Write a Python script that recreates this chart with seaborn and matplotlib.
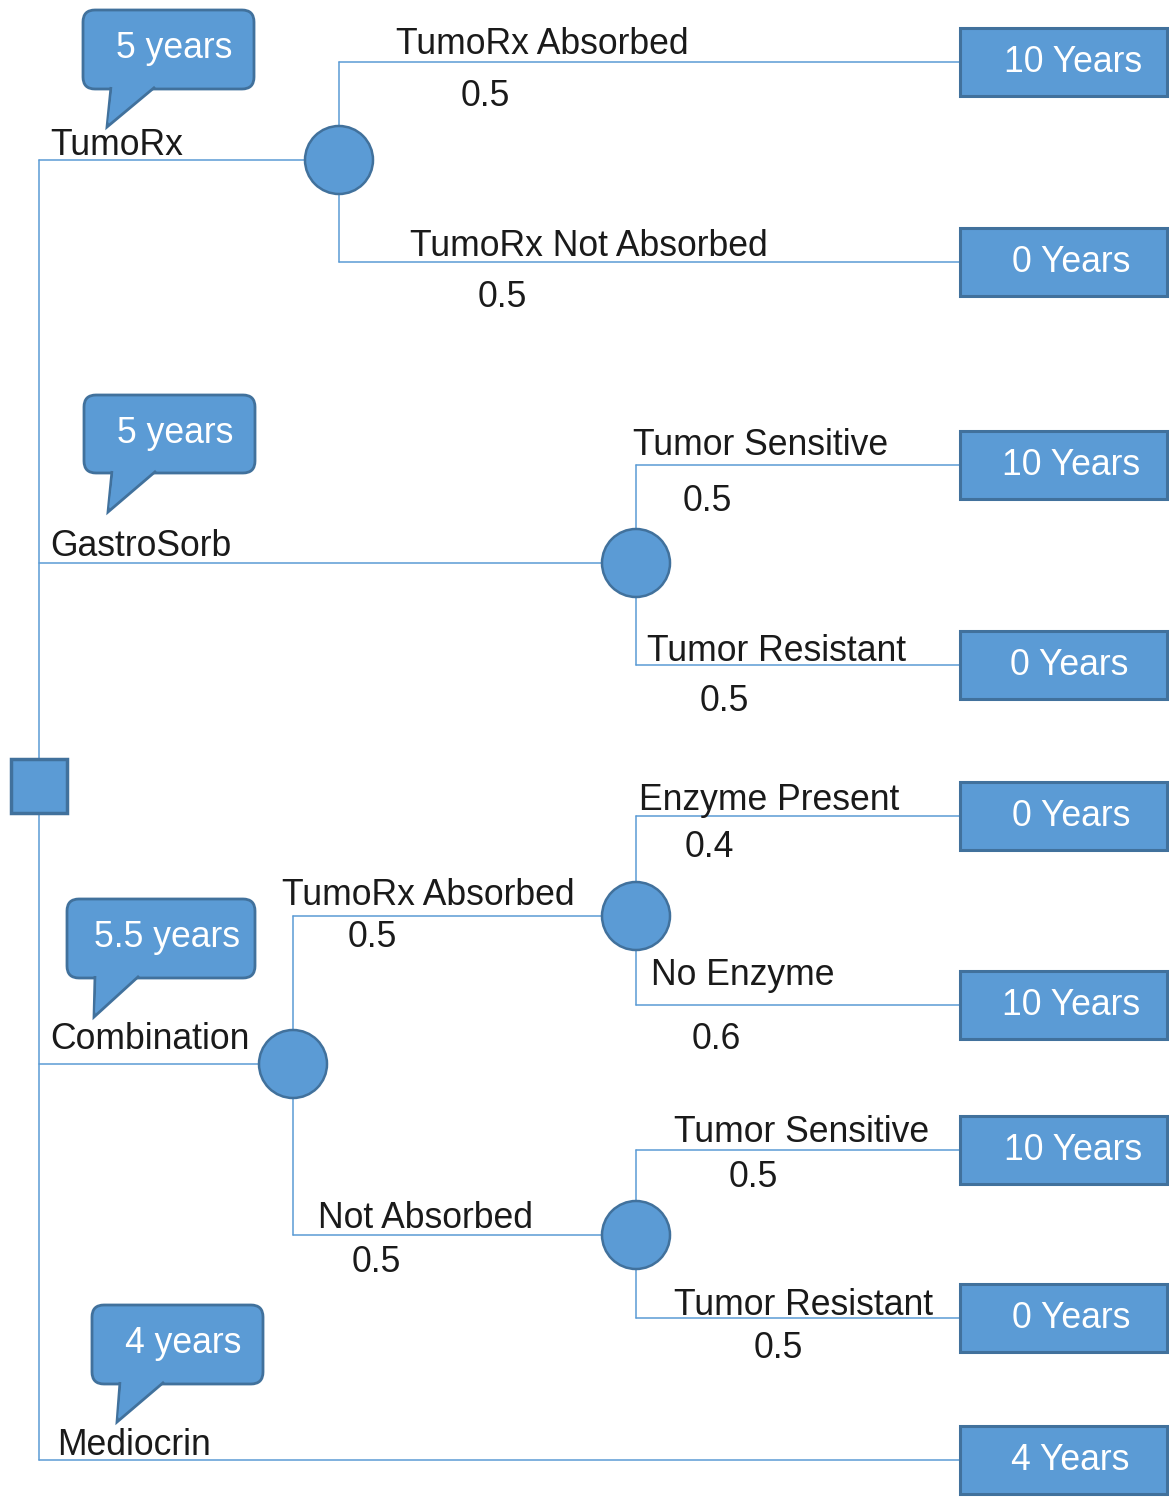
import matplotlib
matplotlib.use("Agg")
import matplotlib.pyplot as plt
from matplotlib.patches import Circle, Rectangle, FancyBboxPatch, Polygon
import seaborn as sns
import pandas as pd

# ---------------- data ----------------
strategies = ["TumoRx", "GastroSorb", "Combination", "Mediocrin"]
expected_values = ["5 years", "5 years", "5.5 years", "4 years"]
branch_labels = ["TumoRx Absorbed", "TumoRx Not Absorbed",
                 "Tumor Sensitive", "Tumor Resistant",
                 "TumoRx Absorbed", "Not Absorbed",
                 "Enzyme Present", "No Enzyme",
                 "Tumor Sensitive", "Tumor Resistant"]
branch_probs = ["0.5", "0.5", "0.5", "0.5", "0.5", "0.5", "0.4", "0.6", "0.5", "0.5"]
outcomes = ["10 Years", "0 Years", "10 Years", "0 Years",
            "0 Years", "10 Years", "10 Years", "0 Years", "4 Years"]

# ---------------- layout (pixels) ----------------
FILL = "#5B9BD5"
EDGE = "#41719C"
LINE = "#5B9BD5"
FS = 25.6
FONT = ["Liberation Sans", "DejaVu Sans"]

sns.set_theme(style="white")
plt.rcParams["font.family"] = FONT

fig = plt.figure(figsize=(11.69, 14.99), dpi=100)
ax = fig.add_axes([0, 0, 1, 1])

trunk_x = 39
strategy_y = [160, 563, 1064, 1460]
chance1 = [(339, 160), (636, 563), (293, 1064)]
chance2 = [(636, 916), (636, 1235)]
R = 34
box_x0, box_x1 = 960, 1167
box_h = 68
out_y = [62, 262, 465, 665, 816, 1005, 1150, 1318, 1460]

# connector segments
segs = []
def seg(x0, y0, x1, y1):
    segs.append([(x0, y0), (x1, y1)])
seg(trunk_x, strategy_y[0], trunk_x, strategy_y[3])
for i, y in enumerate(strategy_y[:3]):
    seg(trunk_x, y, chance1[i][0], y)
seg(trunk_x, strategy_y[3], box_x0, strategy_y[3])
cx, cy = chance1[0]
seg(cx, out_y[0], cx, out_y[1]); seg(cx, out_y[0], box_x0, out_y[0]); seg(cx, out_y[1], box_x0, out_y[1])
cx, cy = chance1[1]
seg(cx, out_y[2], cx, out_y[3]); seg(cx, out_y[2], box_x0, out_y[2]); seg(cx, out_y[3], box_x0, out_y[3])
cx, cy = chance1[2]
seg(cx, chance2[0][1], cx, chance2[1][1])
seg(cx, chance2[0][1], chance2[0][0], chance2[0][1])
seg(cx, chance2[1][1], chance2[1][0], chance2[1][1])
cx, cy = chance2[0]
seg(cx, out_y[4], cx, out_y[5]); seg(cx, out_y[4], box_x0, out_y[4]); seg(cx, out_y[5], box_x0, out_y[5])
cx, cy = chance2[1]
seg(cx, out_y[6], cx, out_y[7]); seg(cx, out_y[6], box_x0, out_y[6]); seg(cx, out_y[7], box_x0, out_y[7])

rows = []
for k, s in enumerate(segs):
    for (x, y) in s:
        rows.append({"x": x, "y": y, "seg": k})
df = pd.DataFrame(rows)
sns.lineplot(data=df, x="x", y="y", units="seg", estimator=None, sort=False,
             color=LINE, linewidth=1.1, ax=ax, legend=False)
ax.set_xlim(0, 1169)
ax.set_ylim(1499, 0)
ax.axis("off")

# decision square
ax.add_patch(Rectangle((11, 759), 56, 54, facecolor=FILL, edgecolor=EDGE, linewidth=2.5, zorder=3))

# chance nodes
for (x, y) in chance1 + chance2:
    ax.add_patch(Circle((x, y), R, facecolor=FILL, edgecolor=EDGE, linewidth=1.8, zorder=3))

# outcome boxes
out_text_x = [1073, 1071, 1071, 1069, 1071, 1071, 1073, 1071, 1070]
for y, lab, tx in zip(out_y, outcomes, out_text_x):
    ax.add_patch(Rectangle((box_x0, y - box_h / 2), box_x1 - box_x0, box_h,
                           facecolor=FILL, edgecolor=EDGE, linewidth=2.2, zorder=3))
    ax.text(tx, y, lab, color="white", fontsize=FS, ha="center", va="center", zorder=4)

# strategy labels
strat_pos = [(50, 155), (50, 556), (50, 1049), (57, 1455)]
for (x, y), lab in zip(strat_pos, strategies):
    ax.text(x, y, lab, fontsize=FS, color="#1a1a1a", ha="left", va="baseline")

# callout bubbles
bubbles = [(83, 10, 254, 89, 107, 127), (84, 395, 255, 473, 108, 512),
           (67, 899, 255, 978, 94, 1017), (92, 1305, 263, 1384, 117, 1422)]
for (x0, y0, x1, y1, tx, ty), lab in zip(bubbles, expected_values):
    ax.add_patch(FancyBboxPatch((x0, y0), x1 - x0, y1 - y0,
                                boxstyle="round,pad=0,rounding_size=12",
                                facecolor=FILL, edgecolor=EDGE, linewidth=2, zorder=3))
    ax.add_patch(Polygon([(x0 + 28, y1 - 2), (tx, ty), (x0 + 72, y1 - 2)], closed=False,
                         facecolor=FILL, edgecolor=EDGE, linewidth=2, zorder=3,
                         joinstyle="miter"))
    ax.add_patch(Polygon([(x0 + 30, y1 - 4), (tx + 1, ty - 4), (x0 + 70, y1 - 4)],
                         facecolor=FILL, edgecolor="none", zorder=4))
    ax.text((x0 + x1) / 2 + 6, (y0 + y1) / 2 - 1, lab, color="white", fontsize=FS,
            ha="center", va="center", zorder=5)

# branch labels and probabilities
lab_pos = [(396, 54), (410, 256), (633, 455), (647, 661), (282, 905), (318, 1228),
           (639, 810), (651, 985), (674, 1142), (674, 1315)]
prob_pos = [(461, 106), (478, 307), (683, 511), (700, 711), (348, 947), (352, 1272),
            (685, 857), (692, 1049), (729, 1187), (754, 1358)]
for (x, y), lab in zip(lab_pos, branch_labels):
    ax.text(x, y, lab, fontsize=FS, color="#1a1a1a", ha="left", va="baseline")
for (x, y), lab in zip(prob_pos, branch_probs):
    ax.text(x, y, lab, fontsize=FS, color="#1a1a1a", ha="left", va="baseline")

fig.savefig("out.png", dpi=100)
